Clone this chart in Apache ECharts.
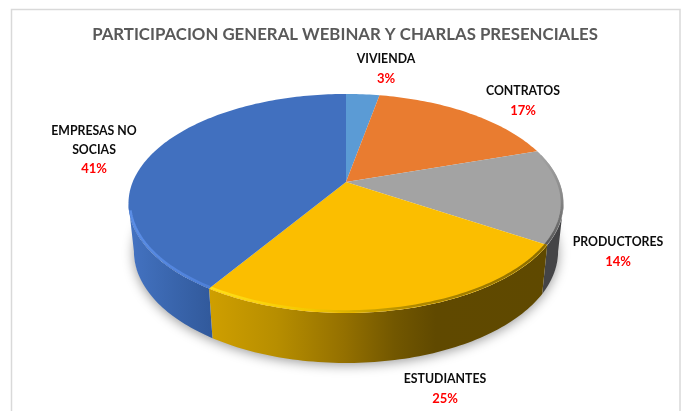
<!DOCTYPE html>
<html>
<head>
<meta charset="utf-8">
<style>html,body{margin:0;padding:0;background:#fff}#c{width:686px;height:411px}</style>
<script src="https://cdn.jsdelivr.net/npm/echarts@6/dist/echarts.min.js"></script>
</head>
<body>
<div id="c"></div>
<script>
const chartTitle = 'PARTICIPACION GENERAL WEBINAR Y CHARLAS PRESENCIALES';
const categories = ['VIVIENDA', 'CONTRATOS', 'PRODUCTORES', 'ESTUDIANTES', 'EMPRESAS NO\nSOCIAS'];
const values = [3, 17, 14, 25, 41];

// Styling and layout
const topColors = ['#5b9bd5', '#e97c30', '#a3a3a3', '#fbbe00', '#4170bf'];
const labelCenters = [[386, 69], [523, 101], [618, 252], [445, 389], [94, 150]];
const FONT = 'Lato, "Open Sans", sans-serif';

// Perspective projection of the pie disc
const CX = 346, CY = 182, A = 105.3, B = 213.3, K = 0.196;
const total = values.reduce((a, b) => a + b, 0);
function rim(t) {
  const d = 1 + K * Math.cos(t);
  return [CX + B * Math.sin(t) / d, CY - A * Math.cos(t) / d];
}
function base(t) {
  const p = rim(t);
  return [CX + (p[0] - CX) * 0.975, p[1] + 47.5 - 2.5 * Math.cos(t)];
}
function arc(fn, a, b) {
  const pts = [], n = Math.max(2, Math.ceil(Math.abs(b - a) / 0.02));
  for (let i = 0; i <= n; i++) pts.push(fn(a + (b - a) * i / n));
  return pts;
}
function range(i) {
  let s = 0;
  for (let j = 0; j < i; j++) s += values[j];
  return [s / total * 2 * Math.PI, (s + values[i]) / total * 2 * Math.PI];
}
const G = (stops, x2 = 1, y2 = 0) =>
  new echarts.graphic.LinearGradient(0, 0, x2, y2, stops.map(c => ({offset: c[0], color: c[1]})));

const sideFills = [
  null, null,
  () => '#444446',
  () => G([[0, '#cf9f00'], [0.2, '#b78e00'], [0.4, '#947000'], [0.55, '#725700'], [0.67, '#604900'], [1, '#5f4900']]),
  () => G([[0, '#4473c2'], [0.5, '#3a66ae'], [1, '#31599b']])
];
const bevelStrokes = [
  null, null,
  () => G([[0, '#a3a3a3'], [0.45, '#8a8a8a'], [1, '#555555']], 0, 1),
  () => G([[0, '#ffe01a'], [0.3, '#f5c800'], [0.6, '#b08a00'], [1, '#8a6b00']]),
  () => G([[0, '#5b8ee6'], [1, '#4d7fd8']])
];
const VIS_A = Math.acos(-K), VIS_B = 2 * Math.PI - Math.acos(-K);

function sideItem(params) {
  const i = params.dataIndex, r = range(i);
  const a = Math.max(r[0], VIS_A), b = Math.min(r[1], VIS_B);
  if (a >= b || !sideFills[i]) return {type: 'group', children: []};
  return {
    type: 'polygon',
    shape: {points: arc(rim, a, b).concat(arc(base, b, a))},
    style: {fill: sideFills[i]()}
  };
}
function topItem(params, api) {
  const i = params.dataIndex, r = range(i);
  const children = [{
    type: 'polygon',
    shape: {points: [[CX, CY]].concat(arc(rim, r[0], r[1]))},
    style: {fill: topColors[i]}
  }];
  if (bevelStrokes[i]) {
    const a = i === 2 ? Math.max(r[0], 1.3) : r[0];
    const b = i === 4 ? Math.min(r[1], 4.45) : r[1];
    const bev = arc(t => {
      const p = rim(t);
      return [CX + (p[0] - CX) * 0.993, CY + (p[1] - CY) * 0.988];
    }, a, b);
    children.push({
      type: 'polyline',
      shape: {points: bev},
      style: {fill: 'none', stroke: bevelStrokes[i](), lineWidth: 2.5}
    });
  }
  const c = labelCenters[i];
  children.push({
    type: 'text',
    style: {
      x: c[0], y: c[1], align: 'center', verticalAlign: 'middle',
      text: '{n|' + categories[i].replace('\n', '}\n{n|') + '}\n{p|' + api.value(0) + '%}',
      rich: {
        n: {font: '700 12.3px ' + FONT, fill: '#0d0d0d', lineHeight: 19, align: 'center'},
        p: {font: '700 13px ' + FONT, fill: '#ff0000', lineHeight: 19, align: 'center'}
      }
    },
    z2: 10
  });
  return {type: 'group', children};
}

const shadow = arc(t => {
  const p = base(t);
  return [p[0], p[1] - 1];
}, 0, 2 * Math.PI);

const chart = echarts.init(document.getElementById('c'), null, {renderer: 'canvas'});
chart.setOption({
  animation: false,
  backgroundColor: '#ffffff',
  title: {
    text: chartTitle, left: 340, top: 21, textAlign: 'center',
    textStyle: {fontFamily: FONT, fontWeight: 700, fontSize: 16.8, color: '#595959'}
  },
  graphic: [
    {type: 'rect', z: 0, shape: {x: 11.5, y: 9.5, width: 668.5, height: 420},
     style: {fill: '#fff', stroke: '#d9d9d9', lineWidth: 1.5}},
    {type: 'polygon', z: 0, shape: {points: shadow},
     style: {fill: '#fff', shadowBlur: 12, shadowColor: 'rgba(0,0,0,0.4)', shadowOffsetY: 3}}
  ],
  series: [
    {type: 'custom', coordinateSystem: 'none', z: 2, data: values, renderItem: sideItem, silent: true},
    {type: 'custom', coordinateSystem: 'none', z: 3, data: values, renderItem: topItem, silent: true}
  ]
});
</script>
</body>
</html>
